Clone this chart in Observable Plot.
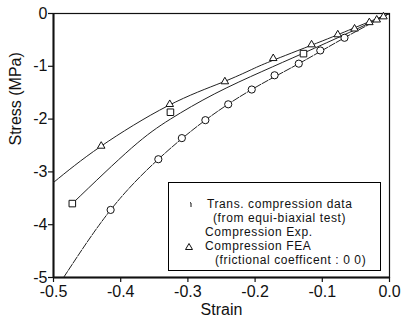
<!DOCTYPE html>
<html>
<head>
<meta charset="utf-8">
<script src="https://cdn.jsdelivr.net/npm/d3@7"></script>
<script src="https://cdn.jsdelivr.net/npm/@observablehq/plot@0.6"></script>
<style>
  html, body { margin: 0; padding: 0; background: #fff; }
  #wrap { position: relative; width: 403px; height: 327px; font-family: "Liberation Sans", Arial, sans-serif; }
  #legend { position: absolute; left: 168px; top: 182px; width: 213px; height: 89px; box-sizing: border-box;
            border: 1.6px solid #000; background: #fff; font-size: 12px; letter-spacing: 0.6px; color: #111; }
  #legend .row { position: absolute; white-space: nowrap; line-height: 13px; height: 13px; }
  #legend svg { position: absolute; overflow: visible; }
</style>
</head>
<body>
<div id="wrap"></div>
<script>
// Tick values
const xTicks = [-0.5, -0.4, -0.3, -0.2, -0.1, 0.0];
const yTicks = [0, -1, -2, -3, -4, -5];

// Trans. compression data (circles)
const circleStrain = [-0.415, -0.344, -0.309, -0.274, -0.240, -0.205, -0.171, -0.135, -0.103, -0.067];
const circleStress = [-3.72, -2.76, -2.36, -2.02, -1.72, -1.44, -1.17, -0.95, -0.70, -0.46];

// Compression Exp. (squares)
const squareStrain = [-0.472, -0.326, -0.128];
const squareStress = [-3.60, -1.87, -0.76];

// Compression FEA (triangles)
const triStrain = [-0.429, -0.327, -0.245, -0.173, -0.116, -0.077, -0.052, -0.030, -0.019, -0.009];
const triStress = [-2.51, -1.72, -1.29, -0.85, -0.59, -0.40, -0.29, -0.17, -0.12, -0.06];

// Fitted curves
const circleFitStrain = [-0.485, -0.415, -0.344, -0.274, -0.205, -0.135, -0.067, 0];
const circleFitStress = [-5.0, -3.72, -2.76, -2.02, -1.44, -0.95, -0.46, 0];
const squareFitStrain = [-0.472, -0.384, -0.326, -0.26, -0.19, -0.128, -0.06, 0];
const squareFitStress = [-3.6, -2.55, -2.0, -1.52, -1.1, -0.75, -0.36, 0];
const triFitStrain = [-0.5, -0.43, -0.33, -0.25, -0.205, -0.17, -0.1, -0.05, 0];
const triFitStress = [-3.2, -2.52, -1.75, -1.31, -1.06, -0.87, -0.52, -0.26, 0];

const zip = (xs, ys) => xs.map((x, i) => ({x, y: ys[i]}));
const circles = zip(circleStrain, circleStress);
const squares = zip(squareStrain, squareStress);
const tris = zip(triStrain, triStress);
const circleFit = zip(circleFitStrain, circleFitStress);
const squareFit = zip(squareFitStrain, squareFitStress);
const triFit = zip(triFitStrain, triFitStress);

const chart = Plot.plot({
  width: 403,
  height: 327,
  marginLeft: 53,
  marginRight: 14,
  marginTop: 13,
  marginBottom: 50,
  style: {fontFamily: "Liberation Sans, Arial, sans-serif", fontSize: "16px", color: "#111", background: "#fff"},
  x: {domain: [-0.5, 0], label: null},
  y: {domain: [-5, 0], label: null},
  marks: [
    Plot.axisX({ticks: xTicks, tickFormat: d => d.toFixed(1), tickSize: 5, tickPadding: 3, fontSize: 16, label: null, strokeWidth: 1.2}),
    Plot.axisY({ticks: yTicks, tickFormat: d => String(d), tickSize: 5, tickPadding: 1, fontSize: 16, label: null, strokeWidth: 1.2}),
    Plot.frame({stroke: "#111", strokeWidth: 1.2}),
    Plot.ruleX([-0.5], {stroke: "#111", strokeWidth: 2}),
    Plot.ruleY([-5], {stroke: "#111", strokeWidth: 2}),
    Plot.line(triFit, {x: "x", y: "y", curve: "natural", stroke: "#222", strokeWidth: 1, clip: true}),
    Plot.line(squareFit, {x: "x", y: "y", curve: "natural", stroke: "#222", strokeWidth: 1, clip: true}),
    Plot.line(circleFit, {x: "x", y: "y", curve: "natural", stroke: "#222", strokeWidth: 1, strokeDasharray: "7,1.5", clip: true}),
    Plot.dot(circles, {x: "x", y: "y", r: 3.6, symbol: "circle", fill: "#fff", stroke: "#111", strokeWidth: 1}),
    Plot.dot(squares, {x: "x", y: "y", r: 3.7, symbol: "square", fill: "#fff", stroke: "#111", strokeWidth: 1}),
    Plot.dot(tris, {x: "x", y: "y", r: 2.8, symbol: "triangle", fill: "#fff", stroke: "#111", strokeWidth: 1}),
    Plot.text(["Strain"], {frameAnchor: "bottom", lineAnchor: "middle", dy: 32, fontSize: 16, fill: "#111"}),
    Plot.text(["Stress (MPa)"], {frameAnchor: "left", dx: -38, rotate: -90, fontSize: 16, fill: "#111"})
  ]
});

const wrap = document.getElementById("wrap");
wrap.appendChild(chart);

const legend = document.createElement("div");
legend.id = "legend";
legend.innerHTML = `
  <svg style="left:20px;top:19px" width="4" height="6"><path d="M1,0.5 L2,1 L2,5" fill="none" stroke="#111" stroke-width="1"/></svg>
  <div class="row" style="left:38px;top:15px">Trans. compression data</div>
  <div class="row" style="left:44px;top:29px">(from equi-biaxial test)</div>
  <div class="row" style="left:36px;top:43px">Compression Exp.</div>
  <svg style="left:16px;top:60px" width="8" height="7"><path d="M4,0.5 L7.5,6.5 L0.5,6.5 Z" fill="#fff" stroke="#111" stroke-width="1"/></svg>
  <div class="row" style="left:36px;top:57px">Compression FEA</div>
  <div class="row" style="left:46px;top:71px">(frictional coefficent : 0 0)</div>
`;
wrap.appendChild(legend);
</script>
</body>
</html>
